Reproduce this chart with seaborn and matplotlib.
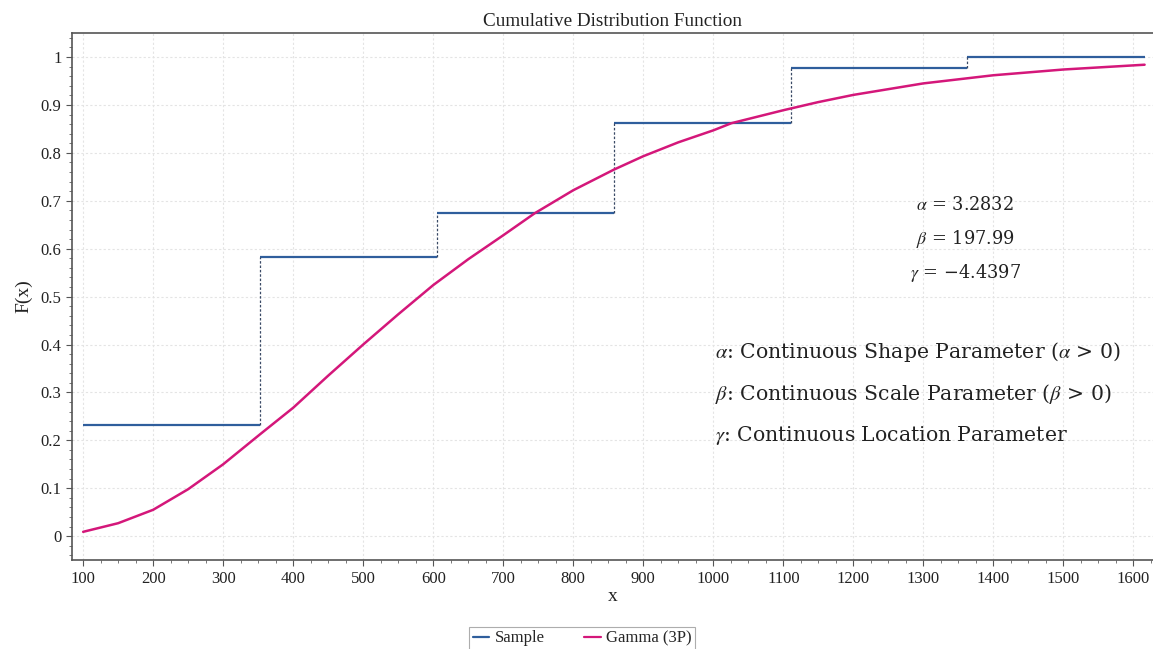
import numpy as np
import pandas as pd
import matplotlib.pyplot as plt
import seaborn as sns
from matplotlib.lines import Line2D
from matplotlib.ticker import MultipleLocator

# sample CDF steps
step_edges = [100, 353, 605, 858, 1111, 1363, 1616]
step_levels = [0.233, 0.583, 0.675, 0.862, 0.978, 1.0]

# fitted Gamma (3P) CDF
gamma_x = [100, 150, 200, 250, 300, 353, 400, 450, 500, 550, 600, 650, 700, 745,
           800, 858, 900, 950, 1000, 1026, 1100, 1150, 1200, 1300, 1400, 1500, 1616]
gamma_f = [0.009, 0.027, 0.055, 0.098, 0.150, 0.213, 0.268, 0.335, 0.400, 0.463,
           0.524, 0.578, 0.628, 0.674, 0.722, 0.765, 0.793, 0.822, 0.847, 0.862,
           0.889, 0.906, 0.921, 0.945, 0.962, 0.974, 0.984]

param_lines = [r"$\alpha$ = 3.2832", r"$\beta$ = 197.99", r"$\gamma$ = −4.4397"]
desc_lines = [r"$\alpha$: Continuous Shape Parameter ($\alpha$ > 0)",
              r"$\beta$: Continuous Scale Parameter ($\beta$ > 0)",
              r"$\gamma$: Continuous Location Parameter"]

sns.set_theme(style="white")
plt.rcParams['font.family'] = ['Liberation Serif', 'DejaVu Serif']
plt.rcParams['mathtext.fontset'] = 'stix'

blue = '#2F5E9C'
pink = '#D4177A'

fig = plt.figure(figsize=(11.53, 6.49), dpi=100)
ax = fig.add_axes([0.0624, 0.137, 0.9376, 0.812])

df = pd.DataFrame({'x': gamma_x, 'F': gamma_f})

# sample steps
ax.hlines(step_levels, step_edges[:-1], step_edges[1:], color=blue, lw=1.6, zorder=3)
ax.vlines(step_edges[1:-1], step_levels[:-1], step_levels[1:], color='#3a4a66',
          lw=0.9, linestyles=(0, (2, 1.5)), zorder=3)

sns.lineplot(data=df, x='x', y='F', color=pink, lw=1.8, ax=ax, zorder=4)

ax.set_xlim(84, 1628)
ax.set_ylim(-0.05, 1.05)
ax.xaxis.set_major_locator(MultipleLocator(100))
ax.xaxis.set_minor_locator(MultipleLocator(25))
ax.yaxis.set_major_locator(MultipleLocator(0.1))
ax.yaxis.set_minor_locator(MultipleLocator(0.02))
ax.set_yticks(np.round(np.arange(0, 1.01, 0.1), 1))
ax.set_yticklabels(['0', '0.1', '0.2', '0.3', '0.4', '0.5', '0.6', '0.7', '0.8', '0.9', '1'])
ax.tick_params(which='major', direction='out', length=4, width=0.8, color='#555555',
               labelsize=12, left=True, bottom=True, colors='#555555', labelcolor='#222222')
ax.tick_params(which='minor', direction='out', length=2.5, width=0.7, color='#777777',
               left=True, bottom=True)
ax.grid(True, which='major', color='#e4e4e4', ls=(0, (2, 2)), lw=0.8)

for s in ['left', 'bottom', 'top']:
    ax.spines[s].set_color('#555555')
    ax.spines[s].set_linewidth(1.2)
ax.spines['right'].set_visible(False)

ax.set_title('Cumulative Distribution Function', fontsize=13.8, pad=5, color='#222222')
ax.set_xlabel('x', fontsize=14, labelpad=1, color='#222222')
ax.set_ylabel('F(x)', fontsize=14, labelpad=6, color='#222222')

for i, t in enumerate(param_lines):
    ax.text(1360, 0.691 - i * 0.071, t, fontsize=12.8, ha='center', va='center',
            color='#222222', family=['DejaVu Serif'])
for i, t in enumerate(desc_lines):
    ax.text(1002, 0.384 - i * 0.087, t, fontsize=14.7, ha='left', va='center',
            color='#222222', family=['DejaVu Serif'])

handles = [Line2D([], [], color=blue, lw=1.6), Line2D([], [], color=pink, lw=1.6)]
leg = fig.legend(handles, ['Sample', 'Gamma (3P)'], loc='lower center', ncol=2,
                 bbox_to_anchor=(0.505, -0.014), frameon=True, fancybox=False,
                 fontsize=12, handlelength=1.0, handletextpad=0.3, columnspacing=2.4,
                 borderpad=0.2, edgecolor='#999999')
leg.get_frame().set_linewidth(0.8)

fig.savefig('out.png', dpi=100)
